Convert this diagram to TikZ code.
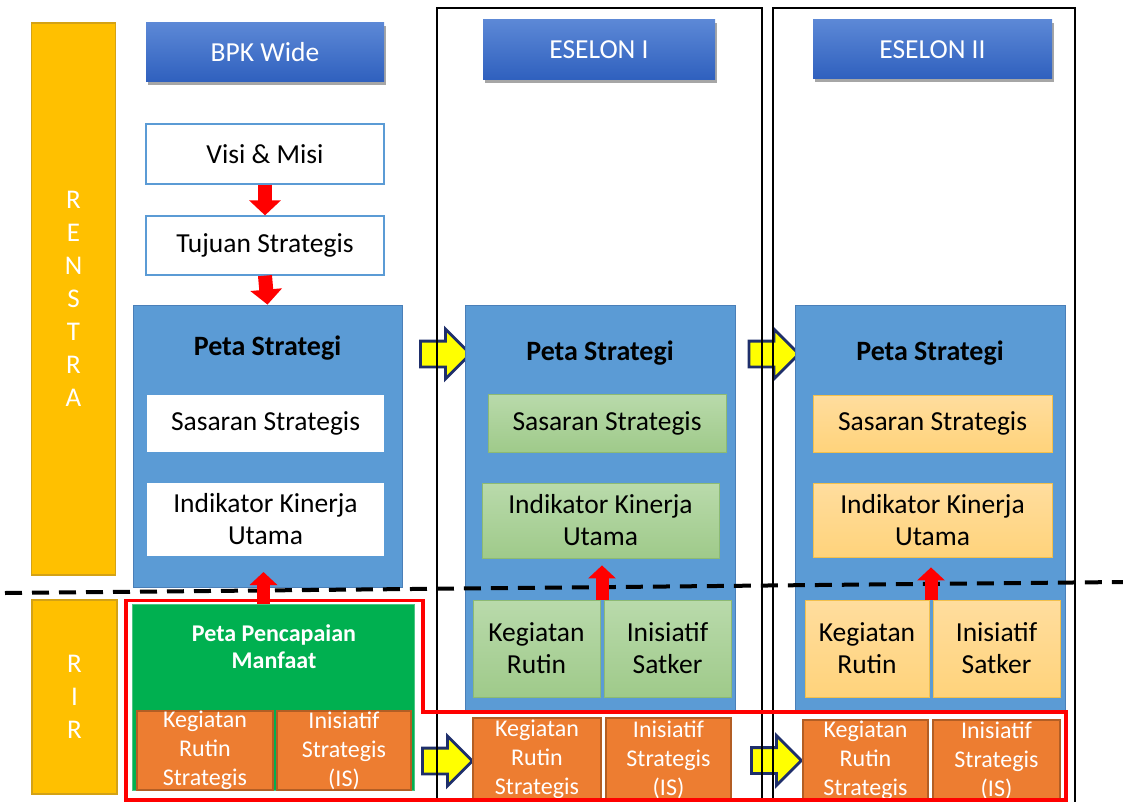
\documentclass[tikz,border=0pt]{standalone}
\usepackage{fontspec}
\setmainfont{Carlito}
\usetikzlibrary{shapes.arrows,arrows.meta,shadows,calc}

\definecolor{barfill}{HTML}{FFC000}
\definecolor{baredge}{HTML}{D4A215}
\definecolor{hdrtop}{HTML}{5C88D6}
\definecolor{hdrbot}{HTML}{2F60BE}
\definecolor{mapfill}{HTML}{5B9BD5}
\definecolor{mapedge}{HTML}{4A7FB8}
\definecolor{greentop}{HTML}{B9DAAB}
\definecolor{greenbot}{HTML}{9FCA8A}
\definecolor{greenedge}{HTML}{8DBA73}
\definecolor{sandtop}{HTML}{FFDD9E}
\definecolor{sandbot}{HTML}{FFD37B}
\definecolor{sandedge}{HTML}{F3C04C}
\definecolor{rustfill}{HTML}{ED7D31}
\definecolor{rustedge}{HTML}{B35E24}
\definecolor{ppmfill}{HTML}{00B050}
\definecolor{ppmedge}{HTML}{4CC584}
\definecolor{navyedge}{HTML}{1F2F6B}
\definecolor{handfill}{HTML}{FFFF00}
\definecolor{flowred}{HTML}{FF0000}
\definecolor{whiteedge}{HTML}{5B9BD5}

\tikzset{
  txtbox/.style={inner sep=0pt, align=center, font=\fontsize{27.5}{32}\selectfont},
  sidebar/.style={txtbox, fill=barfill, draw=baredge, line width=1.2pt, text=white, font=\fontsize{27}{33}\selectfont},
  header/.style={txtbox, top color=hdrtop, bottom color=hdrbot, text=white,
     drop shadow={shadow xshift=1.5pt, shadow yshift=-3pt, fill=black, opacity=0.35}},
  plainbox/.style={txtbox, fill=white, draw=whiteedge, line width=1.3pt},
  mapbox/.style={txtbox, fill=mapfill, draw=mapedge, line width=0.8pt},
  maptitle/.style={inner sep=0pt, font=\fontsize{28}{32}\selectfont\bfseries},
  whitebox/.style={txtbox, fill=white},
  greenbox/.style={txtbox, top color=greentop, bottom color=greenbot, draw=greenedge, line width=0.8pt},
  sandbox/.style={txtbox, top color=sandtop, bottom color=sandbot, draw=sandedge, line width=0.8pt},
  rustbox/.style={txtbox, fill=rustfill, draw=rustedge, line width=1.2pt, text=white, font=\fontsize{24}{29}\selectfont},
  levelframe/.style={draw=black, line width=1.3pt, inner sep=0pt},
  ppmbox/.style={fill=ppmfill, draw=ppmedge, line width=1pt, inner sep=0pt},
  ppmtitle/.style={inner sep=0pt, align=center, text=white, font=\fontsize{24}{27}\selectfont\bfseries},
  flowdown/.style={draw=flowred, line width=14pt, -{Triangle[width=31pt,length=15pt]}},
  flowup/.style={draw=flowred, line width=13pt, -{Triangle[width=27pt,length=13pt]}},
  handover/.style={single arrow, fill=handfill, draw=navyedge, line width=2.8pt,
     inner xsep=0pt, inner ysep=11.5pt, minimum height=50pt,
     single arrow head extend=12pt, single arrow tip angle=90},
  tierline/.style={draw=black, line width=4pt, dash pattern=on 17pt off 10pt},
  rirframe/.style={draw=flowred, line width=3.5pt}
}

\begin{document}
\begin{tikzpicture}[x=1pt,y=-1pt]
\useasboundingbox (0,0) rectangle (1123,802);

% hand-over arrows between the levels
\node[handover] (h1) at (439,354) {};
\node[handover] (h2) at (767.5,354) {};
\node[handover] (h3) at (441,761) {};
\node[handover] (h4) at (770,760.5) {};

% level frames
\node[levelframe, minimum width=325pt, minimum height=800pt] (col1) at (599.5,408) {};
\node[levelframe, minimum width=302pt, minimum height=800pt] (col2) at (924,408) {};

% side bars
\node[sidebar, minimum width=84pt, minimum height=552pt] (renstra) at (73.5,299) {R\\E\\N\\S\\T\\R\\A};
\node[sidebar, minimum width=85pt, minimum height=194pt] (rir) at (74.5,697) {R\\I\\R};

% BPK wide
\node[header, minimum width=238pt, minimum height=59pt] (hdr0) at (265,52.5) {BPK Wide};
\node[plainbox, minimum width=238pt, minimum height=60pt] (visi) at (265,154) {Visi \& Misi};
\node[plainbox, minimum width=238pt, minimum height=59pt] (tujuan) at (265,245.5) {Tujuan Strategis};
\node[mapbox, minimum width=269pt, minimum height=282pt] (ps0) at (267.5,446) {};
\node[maptitle] (pt0) at (267.5,348) {Peta Strategi};
\node[whitebox, minimum width=237pt, minimum height=57pt] (ss0) at (265.5,423.5) {Sasaran Strategis};
\node[whitebox, minimum width=237pt, minimum height=73pt] (iku0) at (265.5,519.5) {Indikator Kinerja\\Utama};

% Eselon I
\node[header, minimum width=232pt, minimum height=60pt] (hdr1) at (599,50) {ESELON I};
\node[mapbox, minimum width=270pt, minimum height=407pt] (ps1) at (600,508.5) {};
\node[maptitle] (pt1) at (600,353) {Peta Strategi};
\node[greenbox, minimum width=238pt, minimum height=58pt] (ss1) at (607,423) {Sasaran Strategis};
\node[greenbox, minimum width=237pt, minimum height=75pt] (iku1) at (600.5,520.5) {Indikator Kinerja\\Utama};
\node[greenbox, minimum width=127pt, minimum height=97pt] (kr1) at (536.5,648.5) {Kegiatan\\Rutin};
\node[greenbox, minimum width=127pt, minimum height=97pt] (is1) at (667.5,648.5) {Inisiatif\\Satker};

% Eselon II
\node[header, minimum width=239pt, minimum height=59pt] (hdr2) at (932.5,49.5) {ESELON II};
\node[mapbox, minimum width=270pt, minimum height=407pt] (ps2) at (930,508.5) {};
\node[maptitle] (pt2) at (930,353) {Peta Strategi};
\node[sandbox, minimum width=239pt, minimum height=57pt] (ss2) at (932.5,423.5) {Sasaran Strategis};
\node[sandbox, minimum width=239pt, minimum height=74pt] (iku2) at (932.5,520) {Indikator Kinerja\\Utama};
\node[sandbox, minimum width=124pt, minimum height=97pt] (kr2) at (867,648.5) {Kegiatan\\Rutin};
\node[sandbox, minimum width=127pt, minimum height=97pt] (is2) at (996.5,648.5) {Inisiatif\\Satker};

% RIR level
\node[ppmbox, minimum width=282pt, minimum height=186pt] (ppm) at (273,697) {};
\node[ppmtitle] (ppmt) at (274,646.5) {Peta Pencapaian\\Manfaat};
\node[rustbox, minimum width=136pt, minimum height=79pt] (okr0) at (205,750.5) {Kegiatan\\Rutin\\Strategis};
\node[rustbox, minimum width=134pt, minimum height=79pt] (ois0) at (344,750.5) {Inisiatif\\Strategis\\(IS)};
\node[rustbox, minimum width=128pt, minimum height=83pt] (okr1) at (537,759.5) {Kegiatan\\Rutin\\Strategis};
\node[rustbox, minimum width=125pt, minimum height=83pt] (ois1) at (668.5,759.5) {Inisiatif\\Strategis\\(IS)};
\node[rustbox, minimum width=125pt, minimum height=81pt] (okr2) at (865.5,760.5) {Kegiatan\\Rutin\\Strategis};
\node[rustbox, minimum width=127pt, minimum height=81pt] (ois2) at (996.5,760.5) {Inisiatif\\Strategis\\(IS)};

% boundary between RENSTRA and RIR
\draw[tierline] (5,593) -- (1123,582);

% RIR outline
\draw[rirframe] (126,600.5) -- (423,600.5) -- (423,712) -- (1066,712) -- (1066,800) -- (126,800) -- cycle;

% cascade arrows
\coordinate (m0) at (263.5,572);
\coordinate (m1) at ($(kr1.north east)!.5!(is1.north west)$);
\coordinate (m2) at ($(kr2.north east)!.5!(is2.north west)$);
\draw[flowdown] (visi.south) -- (tujuan.north);
\draw[flowdown] (tujuan.south) -- (ps0.north);
\draw[flowup] (ppm.north -| m0) -- (m0);
\draw[flowup, shorten >=7pt] (m1) -- (m1 |- iku1.south);
\draw[flowup, shorten >=10pt] (m2) -- (m2 |- iku2.south);
\end{tikzpicture}
\end{document}
